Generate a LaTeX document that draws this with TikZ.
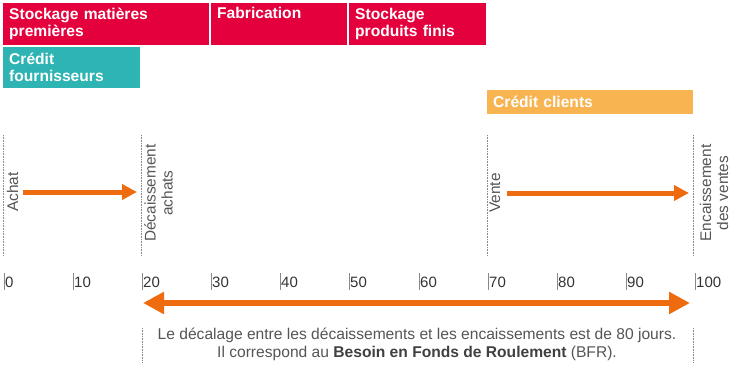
\documentclass[tikz,border=0pt]{standalone}
\usepackage{fontspec}
\setmainfont{Liberation Sans}
\usetikzlibrary{arrows.meta}
\definecolor{barred}{HTML}{E4003D}
\definecolor{barteal}{HTML}{2DB4B3}
\definecolor{barorange}{HTML}{F9B452}
\definecolor{arrorange}{HTML}{EE6B10}
\definecolor{txtgray}{HTML}{555555}
\definecolor{tickgray}{HTML}{888888}
\begin{document}
\begin{tikzpicture}[x=1pt,y=-1pt,
  bar/.style={rectangle,inner xsep=6pt,inner ysep=0pt,anchor=north west,align=left,
    text=white,font=\fontsize{15.6}{17}\selectfont\bfseries},
  vlabel/.style={rotate=90,align=center,text=txtgray,inner sep=0pt,
    font=\fontsize{15.4}{17}\selectfont},
  dotline/.style={draw=tickgray,densely dotted,line width=0.6pt},
  tick/.style={anchor=west,inner sep=0pt,text=black!80,font=\fontsize{15}{17}\selectfont},
  flow/.style={draw=arrorange,line width=5pt,-{Triangle[length=15pt,width=15pt]}},
  bigflow/.style={draw=arrorange,line width=6.5pt,{Triangle[length=21pt,width=21pt]}-{Triangle[length=21pt,width=21pt]}}
]
\useasboundingbox (0,0) rectangle (736,373);
% bars
\node[bar,fill=barred,minimum width=206pt,minimum height=42pt,text width=194pt] (smp) at (3,3) {Stockage matières\\premières};
\node[bar,fill=barred,minimum width=136pt,minimum height=42pt,text width=124pt] (fab) at (211,3) {\vphantom{p}Fabrication\\\strut};
\node[bar,fill=barred,minimum width=137pt,minimum height=42pt,text width=125pt] (spf) at (349,3) {Stockage\\produits finis};
\node[bar,fill=barteal,minimum width=137pt,minimum height=41pt,text width=125pt] (cf) at (3,47) {Crédit\\fournisseurs};
\node[bar,fill=barorange,minimum width=206pt,minimum height=24pt,text width=194pt] (cc) at (487,90) {Crédit clients};
% dotted markers
\coordinate (d0t) at (3,135); \coordinate (d0b) at (3,256);
\coordinate (d20t) at (141,135); \coordinate (d20b) at (141,256);
\coordinate (d70t) at (487,135); \coordinate (d70b) at (487,256);
\coordinate (d100t) at (693,135); \coordinate (d100b) at (693,256);
\draw[dotline] (d0t) -- (d0b);
\draw[dotline] (d20t) -- (d20b);
\draw[dotline] (d70t) -- (d70b);
\draw[dotline] (d100t) -- (d100b);
% vertical labels
\node[vlabel] (achat) at (12.5,192) {Achat};
\node[vlabel] (decaiss) at (158.5,193) {Décaissement\\achats};
\node[vlabel] (vente) at (495,193) {Vente};
\node[vlabel] (encaiss) at (714,193) {Encaissement\\des ventes};
% arrows
\coordinate (a1s) at (23,192); \coordinate (a1e) at (137,192);
\coordinate (a2s) at (507,193); \coordinate (a2e) at (689,193);
\draw[flow] (a1s) -- (a1e);
\draw[flow] (a2s) -- (a2e);
% scale
\foreach \v/\xx in {0/3,10/72,20/141,30/210,40/279,50/348,60/418,70/487,80/556,90/625,100/694}{
  \draw[tickgray,line width=0.8pt] (\xx+1,273) -- (\xx+1,290);
  \node[tick] (t\v) at (\xx+2,282) {\v};
}
% BFR arrow
\coordinate (b1) at (143,303); \coordinate (b2) at (690,303);
\draw[bigflow] (b1) -- (b2);
\coordinate (e1t) at (142,328); \coordinate (e1b) at (142,362);
\coordinate (e2t) at (693,328); \coordinate (e2b) at (693,362);
\draw[dotline] (e1t) -- (e1b);
\draw[dotline] (e2t) -- (e2b);
\node[align=center,text=txtgray,inner sep=0pt,font=\fontsize{15.6}{18}\selectfont] (bfr) at (417,344)
  {Le décalage entre les décaissements et les encaissements est de 80 jours.\\
   Il correspond au \textbf{\color{black!75}Besoin en Fonds de Roulement} (BFR).};
\end{tikzpicture}
\end{document}
